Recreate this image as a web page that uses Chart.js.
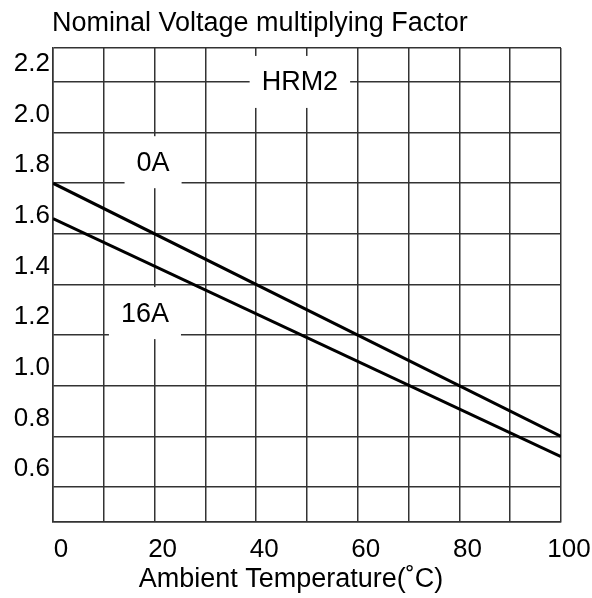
<!DOCTYPE html>
<html lang="en">
<head>
    <meta charset="UTF-8">
    <title>HRM2 Nominal Voltage multiplying Factor</title>
    <style>
        * {
            margin: 0;
            padding: 0;
            box-sizing: border-box;
        }

        body {
            background: #fff;
        }

        .chart-box {
            width: 592px;
            height: 598px;
        }
    </style>
    <script src="https://cdn.jsdelivr.net/npm/chart.js"></script>
</head>
<body>
    <div class="chart-box">
        <canvas id="factorChart" width="592" height="598"></canvas>
    </div>
    <script>
        // Data
        const temps = [0, 100];
        const factor0A = [1.80, 0.80];
        const factor16A = [1.66, 0.72];
        const xTickLabels = [0, 20, 40, 60, 80, 100];
        const yTickLabels = [0.6, 0.8, 1.0, 1.2, 1.4, 1.6, 1.8, 2.0, 2.2];
        const yMin = 0.462;
        const yMax = 2.334;

        // Labels inside the plot (data coordinates)
        const noteTexts = ['HRM2', '0A', '16A'];
        const noteX = [48.6, 19.7, 18.1];
        const noteY = [2.2, 1.883, 1.287];

        const FONT = '"Liberation Sans", Arial, sans-serif';
        const gridColor = '#333';
        const textColor = '#000';

        // Draws the heading, the x axis caption and the boxed curve labels
        const textPlugin = {
            id: 'texts',
            afterDatasetsDraw(chart) {
                const { ctx, chartArea, scales } = chart;
                ctx.save();
                ctx.fillStyle = textColor;
                ctx.font = '27px ' + FONT;
                ctx.textAlign = 'left';
                ctx.textBaseline = 'alphabetic';
                ctx.fillText('Nominal Voltage multiplying Factor', chartArea.left - 1, 31);

                ctx.textAlign = 'center';
                ctx.fillText('Ambient Temperature(˚C)', 291, 587);

                ctx.textBaseline = 'middle';
                noteTexts.forEach((t, i) => {
                    const px = scales.x.getPixelForValue(noteX[i]);
                    const py = scales.y.getPixelForValue(noteY[i]);
                    const w = ctx.measureText(t).width + 24;
                    const h = 52;
                    ctx.fillStyle = '#fff';
                    ctx.fillRect(px - w / 2, py - h / 2, w, h);
                    ctx.fillStyle = textColor;
                    ctx.fillText(t, px, py + 1);
                });
                ctx.restore();
            }
        };

        const toPoints = (xs, ys) => xs.map((x, i) => ({ x: x, y: ys[i] }));

        new Chart(document.getElementById('factorChart'), {
            type: 'scatter',
            data: {
                datasets: [{
                    label: '0A',
                    data: toPoints(temps, factor0A),
                    showLine: true,
                    borderColor: '#000',
                    borderWidth: 3,
                    pointRadius: 0
                }, {
                    label: '16A',
                    data: toPoints(temps, factor16A),
                    showLine: true,
                    borderColor: '#000',
                    borderWidth: 3,
                    pointRadius: 0
                }]
            },
            options: {
                responsive: false,
                animation: false,
                devicePixelRatio: 1,
                layout: {
                    padding: { top: 48, right: 31, left: 0, bottom: 0 }
                },
                plugins: {
                    legend: { display: false },
                    tooltip: { enabled: false }
                },
                scales: {
                    x: {
                        type: 'linear',
                        min: 0,
                        max: 100,
                        afterFit: axis => {
                            axis.height = 76;
                            axis.paddingLeft = 0;
                            axis.paddingRight = 0;
                        },
                        border: { display: true, color: gridColor, width: 1.5 },
                        grid: { color: gridColor, lineWidth: 1.5, drawTicks: false },
                        ticks: {
                            stepSize: 10,
                            padding: 12,
                            labelOffset: 8,
                            maxRotation: 0,
                            color: textColor,
                            font: { family: FONT, size: 26 },
                            callback: v => xTickLabels.includes(v) ? String(v) : ''
                        }
                    },
                    y: {
                        min: yMin,
                        max: yMax,
                        afterFit: axis => {
                            axis.width = 53;
                            axis.paddingTop = 0;
                            axis.paddingBottom = 0;
                        },
                        afterBuildTicks: axis => {
                            axis.ticks = [yMin, ...yTickLabels, yMax].map(v => ({ value: v }));
                        },
                        border: { display: true, color: gridColor, width: 1.5 },
                        grid: { color: gridColor, lineWidth: 1.5, drawTicks: false },
                        ticks: {
                            padding: 3,
                            labelOffset: -18,
                            color: textColor,
                            font: { family: FONT, size: 26 },
                            callback: v => yTickLabels.some(t => Math.abs(t - v) < 1e-6) ? v.toFixed(1) : ''
                        }
                    }
                }
            },
            plugins: [textPlugin]
        });
    </script>
</body>
</html>
